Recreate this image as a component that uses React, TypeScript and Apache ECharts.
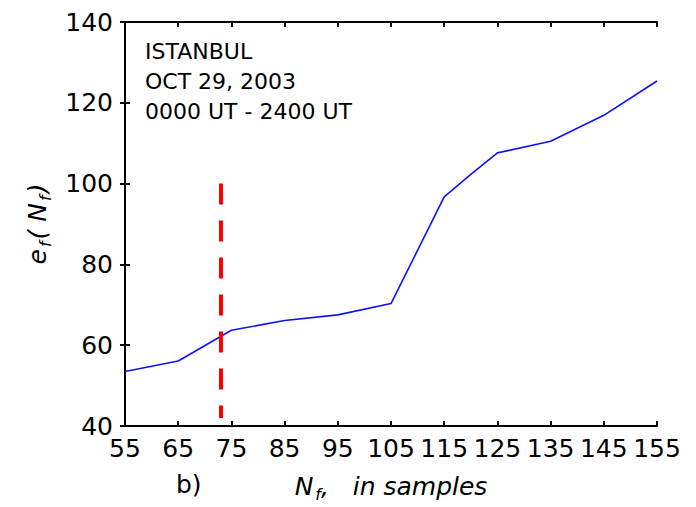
import React, { useEffect, useRef } from "react";
import * as echarts from "echarts";

const samplesN = [55, 65, 75, 85, 95, 105, 115, 120, 125, 135, 145, 155];
const errorValues = [53.5, 56.1, 63.7, 66.1, 67.5, 70.3, 96.7, 102.3, 107.6, 110.5, 116.9, 125.4];
const xMinN = 55;
const xMaxN = 155;
const markerN = 73;
const markerRange = [100, 42];
const infoLines = ["ISTANBUL", "OCT 29, 2003", "0000 UT - 2400 UT"];

export default function App() {
  const ref = useRef<HTMLDivElement>(null);
  useEffect(() => {
    if (!ref.current) return;
    const chart = echarts.init(ref.current, null, { renderer: "svg" });
    const font = "DejaVu Sans";
    const data = samplesN.map((n, i) => [n - xMinN, errorValues[i]]);
    const axisLine = { show: true, lineStyle: { color: "#000", width: 2 } };
    const ticks = { show: true, inside: true, length: 5, lineStyle: { color: "#000", width: 2 } };
    chart.setOption({
      animation: false,
      backgroundColor: "#fff",
      grid: { left: 125, right: 39, top: 22, bottom: 74 },
      xAxis: [
        {
          type: "value",
          min: 0,
          max: xMaxN - xMinN,
          interval: 10,
          axisLine,
          axisTick: ticks,
          splitLine: { show: false },
          axisLabel: {
            formatter: (v: number) => String(v + xMinN),
            fontFamily: font,
            fontSize: 25,
            color: "#000",
            margin: 10,
          },
          name: "{n|N}{s|f}{t|,   in samples}",
          nameLocation: "middle",
          nameGap: 44,
          nameTextStyle: {
            rich: {
              n: { fontFamily: font, fontStyle: "italic", fontSize: 25, color: "#000" },
              s: { fontFamily: font, fontStyle: "italic", fontSize: 16, color: "#000", padding: [16, 0, 0, 2] },
              t: { fontFamily: font, fontStyle: "italic", fontSize: 25, color: "#000" },
            },
          },
        },
        {
          type: "value",
          position: "top",
          min: 0,
          max: xMaxN - xMinN,
          interval: 10,
          axisLine,
          axisTick: ticks,
          axisLabel: { show: false },
          splitLine: { show: false },
        },
      ],
      yAxis: [
        {
          type: "value",
          min: 40,
          max: 140,
          interval: 20,
          axisLine,
          axisTick: ticks,
          splitLine: { show: false },
          axisLabel: { fontFamily: font, fontSize: 25, color: "#000", margin: 12 },
          name: "{n|e}{s|f}{n|( N}{s|f}{n|)}",
          nameLocation: "middle",
          nameGap: 72,
          nameRotate: 90,
          nameTextStyle: {
            rich: {
              n: { fontFamily: font, fontStyle: "italic", fontSize: 25, color: "#000" },
              s: { fontFamily: font, fontStyle: "italic", fontSize: 16, color: "#000", padding: [16, 2, 0, 2] },
            },
          },
        },
        {
          type: "value",
          position: "right",
          min: 40,
          max: 140,
          interval: 20,
          axisLine,
          axisTick: ticks,
          axisLabel: { show: false },
          splitLine: { show: false },
        },
      ],
      series: [
        {
          type: "line",
          data,
          symbol: "none",
          lineStyle: { color: "#1010ff", width: 1.6 },
          markLine: {
            silent: true,
            symbol: "none",
            label: { show: false },
            lineStyle: { color: "#ff0000", width: 4, type: [21, 16], opacity: 1 },
            data: [
              [
                { coord: [markerN - xMinN, markerRange[0]] },
                { coord: [markerN - xMinN, markerRange[1]] },
              ],
            ],
          },
        },
      ],
      graphic: [
        {
          type: "text",
          left: 145,
          top: 36,
          style: {
            text: infoLines.join("\n"),
            fontFamily: font,
            fontSize: 22,
            lineHeight: 30,
            fill: "#000",
          },
        },
        {
          type: "text",
          left: 176,
          top: 472,
          style: { text: "b)", fontFamily: font, fontSize: 25, fill: "#000" },
        },
      ],
    });
    return () => chart.dispose();
  }, []);
  return <div ref={ref} style={{ width: 696, height: 507, position: "absolute", left: 0, top: 0 }} />;
}
